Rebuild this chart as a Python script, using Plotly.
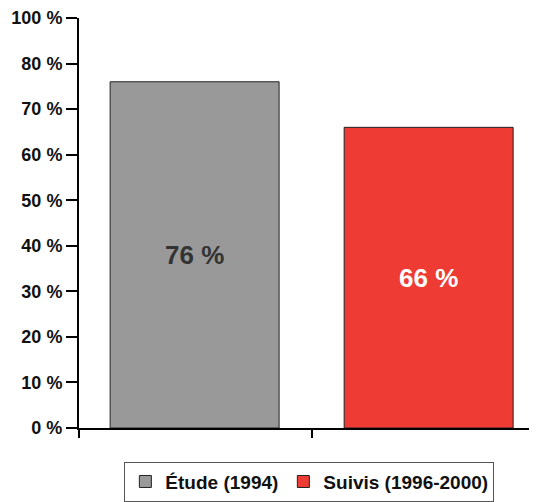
import plotly.graph_objects as go

# ---------------------------------------------------------------------------
# Data
# ---------------------------------------------------------------------------
series_names = ["Étude (1994)", "Suivis (1996-2000)"]
values = [76, 66]
bar_colors = ["#999999", "#EE3B33"]
text_colors = ["#333333", "#FFFFFF"]
tick_vals = [0, 10, 20, 30, 40, 50, 60, 70, 80, 90]
tick_text = ["0 %", "10 %", "20 %", "30 %", "40 %", "50 %", "60 %", "70 %", "80 %", "100 %"]

FONT = "Liberation Sans, Arial, sans-serif"

fig = go.Figure()
for i, (name, val) in enumerate(zip(series_names, values)):
    fig.add_trace(go.Bar(
        x=[i], y=[val],
        name=name,
        width=0.722,
        marker=dict(color=bar_colors[i], line=dict(color="#222222", width=1)),
        text=[f"{val} %"],
        textposition="inside",
        insidetextanchor="middle",
        textfont=dict(family=FONT, size=26, color=text_colors[i], weight="bold"),
        hoverinfo="skip",
    ))

# page body has an 8px margin, so the figure is sized/offset to compensate
fig.update_layout(
    width=529, height=494,
    margin=dict(l=71, r=0, t=10, b=71),
    paper_bgcolor="white", plot_bgcolor="white",
    font=dict(family=FONT, size=18, color="#111111"),
    showlegend=True,
    legend=dict(
        orientation="h",
        x=0.503, xanchor="center",
        y=-0.082, yanchor="top",
        bordercolor="#555555", borderwidth=1,
        font=dict(family=FONT, size=19, color="#111111", weight="bold"),
        traceorder="normal",
    ),
    xaxis=dict(
        range=[-0.494, 1.463],
        tickvals=[-0.494, 0.5],
        showticklabels=False,
        ticks="outside", ticklen=8, tickwidth=2, tickcolor="black",
        showline=True, linecolor="black", linewidth=2,
        showgrid=False, zeroline=False,
    ),
    yaxis=dict(
        range=[0, 90],
        tickvals=tick_vals, ticktext=tick_text,
        tickfont=dict(family=FONT, size=18, color="#111111", weight="bold"),
        ticks="outside", ticklen=11, tickwidth=2, tickcolor="black",
        showline=True, linecolor="black", linewidth=2,
        showgrid=False, zeroline=False,
        automargin=False,
    ),
)

fig.write_html("out.html")
